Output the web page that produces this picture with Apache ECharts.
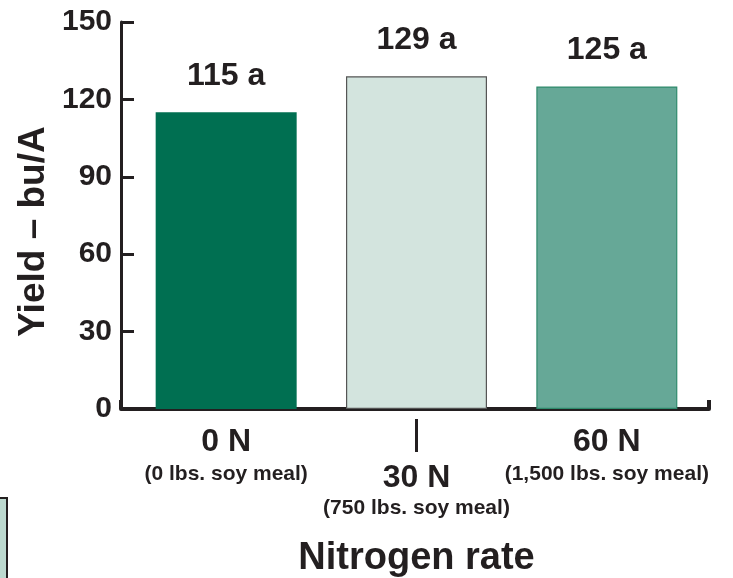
<!DOCTYPE html>
<html>
<head>
<meta charset="utf-8">
<script src="https://cdn.jsdelivr.net/npm/echarts@6/dist/echarts.min.js"></script>
<style>
html,body{margin:0;padding:0;background:#fff;}
#c{width:733px;height:578px;}
</style>
</head>
<body>
<div id="c"></div>
<script>
const categories = ['0 N', '30 N', '60 N'];
const subLabels = ['(0 lbs. soy meal)', '(750 lbs. soy meal)', '(1,500 lbs. soy meal)'];
const yields = [115, 129, 125];
const letters = ['a', 'a', 'a'];
const yTicks = [0, 30, 60, 90, 120, 150];

const barColors = ['#006f51', '#d3e4de', '#66a897'];
const barBorders = ['#006f51', '#555555', '#2f8a6c'];
const TXT = '#231f20';
const FONT = '"Liberation Sans", Arial, sans-serif';

const chart = echarts.init(document.getElementById('c'), null, {renderer: 'canvas'});

const option = {
  backgroundColor: '#ffffff',
  animation: false,
  textStyle: {fontFamily: FONT, color: TXT},
  grid: [
    {left: 131, right: 31, top: 22, bottom: 169, containLabel: false, outerBoundsMode: 'none'},
    {left: 121, right: 24, top: 22, bottom: 169, containLabel: false, outerBoundsMode: 'none'}
  ],
  xAxis: [
    {
      type: 'category', gridIndex: 0, data: categories,
      axisLine: {show: false}, axisTick: {show: false},
      axisLabel: {
        interval: 0, margin: 10,
        formatter: function (v, i) {
          if (i === 1) {
            return '{tick| }\n{sp2| }\n{big|' + v + '}\n{small2|' + subLabels[i] + '}';
          }
          return '{sp| }\n{big|' + v + '}\n{small|' + subLabels[i] + '}';
        },
        rich: {
          tick: {width: 3, height: 33, lineHeight: 33, backgroundColor: '#231f20', fontSize: 1},
          sp: {fontSize: 1, height: 5, lineHeight: 5},
          sp2: {fontSize: 1, height: 8, lineHeight: 8},
          big: {fontSize: 32, fontWeight: 'bold', color: TXT, lineHeight: 36, fontFamily: FONT},
          small: {fontSize: 21, fontWeight: 'bold', color: TXT, lineHeight: 28, fontFamily: FONT},
          small2: {fontSize: 21, fontWeight: 'bold', color: TXT, lineHeight: 24, fontFamily: FONT}
        }
      },
      name: 'Nitrogen rate', nameLocation: 'middle', nameGap: 131, nameMoveOverlap: false,
      nameTextStyle: {fontSize: 38, fontWeight: 'bold', color: TXT, fontFamily: FONT}
    },
    {
      type: 'value', gridIndex: 1, min: 0, max: 1, interval: 1,
      axisLine: {show: true, lineStyle: {color: '#231f20', width: 4}},
      axisTick: {show: true, inside: true, length: 9, lineStyle: {color: '#231f20', width: 4}},
      axisLabel: {show: false}, splitLine: {show: false}
    }
  ],
  yAxis: [
    {
      type: 'value', gridIndex: 0, min: 0, max: 150, interval: 30, show: false
    },
    {
      type: 'value', gridIndex: 1, min: 0, max: 150, interval: 30,
      axisLine: {show: true, lineStyle: {color: '#231f20', width: 3}},
      axisTick: {show: true, inside: true, length: 13, lineStyle: {color: '#231f20', width: 3}},
      splitLine: {show: false},
      axisLabel: {
        margin: 9, fontSize: 30, fontWeight: 'bold', color: TXT, fontFamily: FONT,
        formatter: function (v) { return yTicks.indexOf(v) >= 0 ? String(v) : ''; }
      },
      name: 'Yield – bu/A', nameLocation: 'middle', nameGap: 69, nameMoveOverlap: false,
      nameTextStyle: {fontSize: 37, fontWeight: 'bold', color: TXT, fontFamily: FONT, padding: [0, 32, 0, 0]}
    }
  ],
  series: [
    {
      type: 'bar', xAxisIndex: 0, yAxisIndex: 0, barWidth: 141,
      data: yields.map(function (v, i) {
        return {
          value: v,
          itemStyle: {color: barColors[i], borderColor: barBorders[i], borderWidth: i === 0 ? 0 : 1.2}
        };
      }),
      label: {
        show: true, position: 'top', distance: 20,
        fontSize: 32, fontWeight: 'bold', color: TXT, fontFamily: FONT,
        formatter: function (p) { return p.value + ' ' + letters[p.dataIndex]; }
      }
    }
  ],
  graphic: [
    {
      type: 'rect', shape: {x: -10, y: 498, width: 17, height: 100},
      style: {fill: '#bcd9cf', stroke: '#231f20', lineWidth: 2}
    }
  ]
};
chart.setOption(option);
</script>
</body>
</html>
